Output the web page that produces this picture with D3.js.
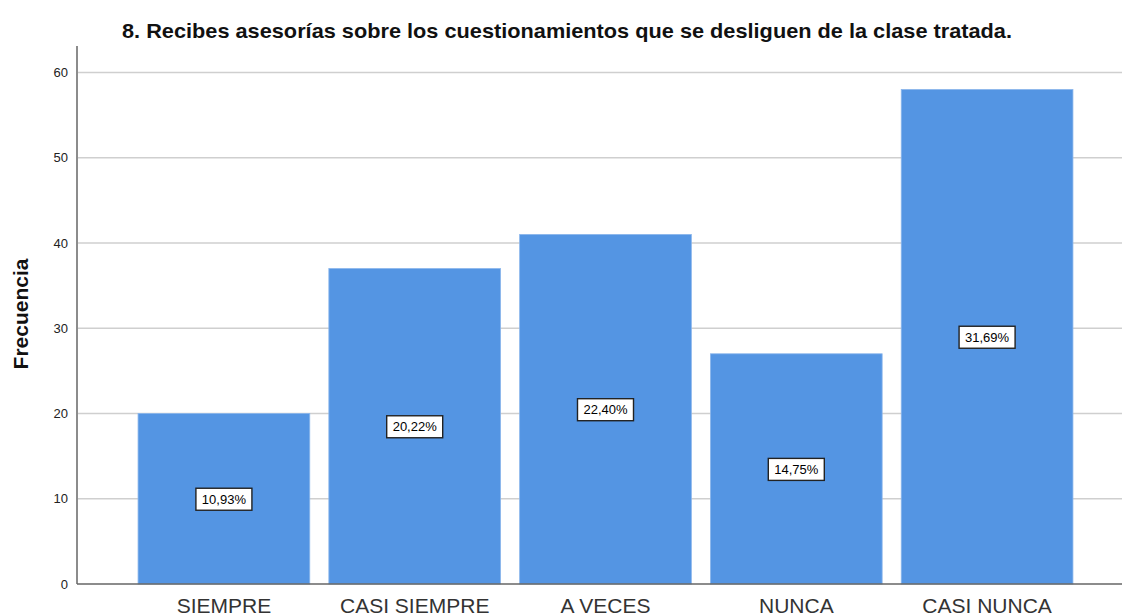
<!DOCTYPE html>
<html>
<head>
<meta charset="utf-8">
<script src="https://cdn.jsdelivr.net/npm/d3@7"></script>
<style>
  body { margin: 0; background: #fff; }
  svg { display: block; font-family: "Liberation Sans", Arial, sans-serif; }
</style>
</head>
<body>
<script>
// Data
var categories = ["SIEMPRE", "CASI SIEMPRE", "A VECES", "NUNCA", "CASI NUNCA"];
var frequencies = [20, 37, 41, 27, 58];
var percentLabels = ["10,93%", "20,22%", "22,40%", "14,75%", "31,69%"];
var yTicks = [0, 10, 20, 30, 40, 50, 60];

var svgWidth = 1122;
var svgHeight = 616;

var margin = { top: 46, right: 0, bottom: 32, left: 77 };
var height = svgHeight - margin.top - margin.bottom;

var svg = d3.select("body")
  .append("svg")
  .attr("width", svgWidth)
  .attr("height", svgHeight);

var chartGroup = svg.append("g")
  .attr("transform", `translate(${margin.left}, ${margin.top})`);

// Scales
var yScale = d3.scaleLinear()
  .domain([0, 63.1])
  .range([height, 0]);

var xScale = d3.scaleBand()
  .domain(categories)
  .range([0, 1057])
  .paddingInner(0.1)
  .paddingOuter(0.32);

// Gridlines
chartGroup.selectAll(".grid")
  .data(yTicks.filter(d => d > 0))
  .enter()
  .append("line")
  .attr("x1", 0)
  .attr("x2", svgWidth - margin.left)
  .attr("y1", d => yScale(d))
  .attr("y2", d => yScale(d))
  .attr("stroke", "#cfcfcf")
  .attr("stroke-width", 1.5);

// Bars
chartGroup.selectAll(".bar")
  .data(frequencies)
  .enter()
  .append("rect")
  .attr("x", (d, i) => xScale(categories[i]))
  .attr("y", d => yScale(d))
  .attr("width", xScale.bandwidth())
  .attr("height", d => height - yScale(d))
  .attr("fill", "#5495e3")
  .attr("stroke", "#8bb6ec")
  .attr("stroke-width", 0.8);

// Percent labels in boxes, centered at half the bar height
var labels = chartGroup.selectAll(".pct")
  .data(frequencies)
  .enter()
  .append("g")
  .attr("transform", (d, i) =>
    `translate(${xScale(categories[i]) + xScale.bandwidth() / 2}, ${yScale(d / 2)})`);

labels.append("rect")
  .attr("x", -28)
  .attr("y", -10.5)
  .attr("width", 56)
  .attr("height", 22)
  .attr("fill", "#fff")
  .attr("stroke", "#222")
  .attr("stroke-width", 1.4);

labels.append("text")
  .attr("text-anchor", "middle")
  .attr("y", 5)
  .attr("font-size", "13px")
  .attr("fill", "#000")
  .text((d, i) => percentLabels[i]);

// Y axis
var leftAxis = d3.axisLeft(yScale)
  .tickValues(yTicks)
  .tickSize(0)
  .tickPadding(9);

var yAxis = chartGroup.append("g").call(leftAxis);
yAxis.select(".domain").remove();
yAxis.selectAll("text")
  .attr("font-size", "13px")
  .attr("fill", "#222")
  .attr("font-family", "Liberation Sans, Arial, sans-serif");

chartGroup.append("line")
  .attr("x1", 0).attr("x2", 0)
  .attr("y1", 0).attr("y2", height)
  .attr("stroke", "#8c8c8c")
  .attr("stroke-width", 2);

// X axis
var bottomAxis = d3.axisBottom(xScale).tickSize(0).tickPadding(14);
var xAxis = chartGroup.append("g")
  .attr("transform", `translate(0, ${height})`)
  .call(bottomAxis);
xAxis.select(".domain").remove();
xAxis.selectAll("text")
  .attr("font-size", "21px")
  .attr("fill", "#333")
  .attr("font-family", "Liberation Sans, Arial, sans-serif");

chartGroup.append("line")
  .attr("x1", 0).attr("x2", svgWidth - margin.left)
  .attr("y1", height).attr("y2", height)
  .attr("stroke", "#666")
  .attr("stroke-width", 1.5);

// Title
svg.append("text")
  .attr("x", 567)
  .attr("y", 38)
  .attr("text-anchor", "middle")
  .attr("font-size", "21px")
  .attr("font-weight", "bold")
  .attr("fill", "#111")
  .attr("textLength", 890)
  .attr("lengthAdjust", "spacingAndGlyphs")
  .text("8. Recibes asesorías sobre los cuestionamientos que se desliguen de la clase tratada.");

// Y axis title
svg.append("text")
  .attr("transform", "translate(28, 314) rotate(-90)")
  .attr("text-anchor", "middle")
  .attr("font-size", "21px")
  .attr("font-weight", "bold")
  .attr("fill", "#111")
  .text("Frecuencia");
</script>
</body>
</html>
